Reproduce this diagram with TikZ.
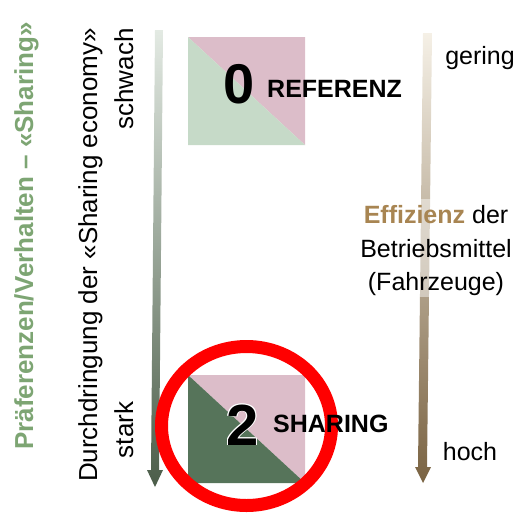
\documentclass[tikz,border=0pt]{standalone}
\usepackage{fontspec}
\setmainfont{Liberation Sans}
\definecolor{prefgreen}{RGB}{125,165,115}
\definecolor{effbrown}{RGB}{168,133,82}
\definecolor{sqpink}{RGB}{220,189,201}
\definecolor{sqlightgreen}{RGB}{198,218,200}
\definecolor{sqdarkgreen}{RGB}{86,116,90}
\definecolor{arrgtop}{RGB}{227,234,227}
\definecolor{arrgmid}{RGB}{197,206,196}
\definecolor{arrgbot}{RGB}{75,93,73}
\definecolor{arrbtop}{RGB}{245,240,230}
\definecolor{arrbmid}{RGB}{214,203,187}
\definecolor{arrbbot}{RGB}{122,99,66}
\definecolor{ringred}{RGB}{255,0,0}
\tikzset{
  lbl/.style={inner sep=0pt, font=\fontsize{26}{31}\selectfont},
  rlbl/.style={inner sep=0pt, font=\fontsize{25}{30}\selectfont},
  bignum/.style={inner sep=0pt, font=\bfseries\fontsize{56}{60}\selectfont},
  scen/.style={inner sep=0pt, font=\bfseries\fontsize{25}{30}\selectfont},
}
\begin{document}
\begin{tikzpicture}[x=1pt,y=-1pt]
\useasboundingbox (0,0) rectangle (519,515);
% left arrow (Durchdringung)
\shade[top color=arrgtop, middle color=arrgmid, bottom color=arrgbot]
  (155,30) -- (163,30) -- (159,470) -- (163,470) -- (155,487) -- (147,470) -- (151,470) -- cycle;
% right arrow (Effizienz)
\shade[top color=arrbtop, middle color=arrbmid, bottom color=arrbbot]
  (423,33) -- (432,33) -- (427,467) -- (431,467) -- (423,483) -- (415,467) -- (418,467) -- cycle;
% rotated labels
\node[lbl, font=\bfseries\fontsize{26}{31}\selectfont, text=prefgreen, rotate=90, anchor=base] (pref) at (33,236) {Präferenzen/Verhalten – «Sharing»};
\node[lbl, rotate=90, anchor=base] (durch) at (97,255) {Durchdringung der «Sharing economy»};
\node[lbl, rotate=90, anchor=base] (stark) at (133,430) {stark};
\node[lbl, rotate=90, anchor=base] (schwach) at (133,79) {schwach};
% right labels
\node[rlbl, anchor=base] (gering) at (480,64) {gering};
\node[rlbl, anchor=base] (hoch) at (470,460) {hoch};
\fill[white, fill opacity=0.45] (352,199) rectangle (517,297);
\node[rlbl, anchor=base] (eff1) at (436,223) {{\bfseries\color{effbrown}Effizienz} der};
\node[rlbl, anchor=base] (eff2) at (436,257) {Betriebsmittel};
\node[rlbl, anchor=base] (eff3) at (436,290) {(Fahrzeuge)};
% top square (Referenz)
\fill[sqpink] (188,37) -- (305,37) -- (305,145) -- cycle;
\fill[sqlightgreen] (188,37) -- (305,145) -- (188,145) -- cycle;
% bottom square (Sharing)
\fill[sqpink] (188,375) -- (305,375) -- (305,483) -- cycle;
\fill[sqdarkgreen] (188,375) -- (305,483) -- (188,483) -- cycle;
% red ring
\draw[ringred, line width=13pt] (246.5,426) ellipse [x radius=85, y radius=79.5];
% scenario labels
\node[bignum, anchor=base] (n0) at (239,103) {0};
\node[scen, anchor=base west] (ref) at (267,97) {REFERENZ};
\foreach \dx/\dy in {-0.9/0,0.9/0,0/-0.9,0/0.9,-0.65/-0.65,0.65/0.65,-0.65/0.65,0.65/-0.65}
  \node[bignum, font=\bfseries\fontsize{58}{60}\selectfont, text=white, anchor=base] at (242.5+\dx,445+\dy) {2};
\node[bignum, font=\bfseries\fontsize{58}{60}\selectfont, anchor=base] (n2) at (242.5,445) {2};
\node[scen, anchor=base west] (shar) at (273,432) {SHARING};
\end{tikzpicture}
\end{document}
